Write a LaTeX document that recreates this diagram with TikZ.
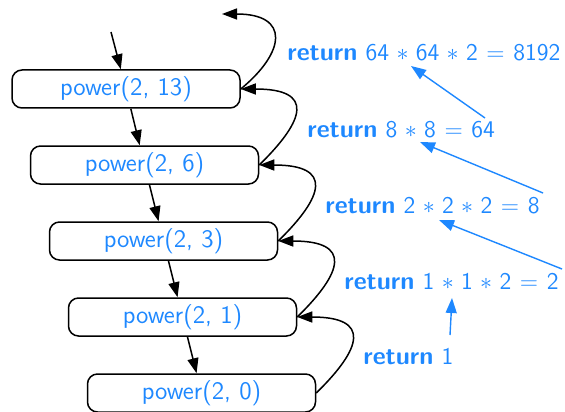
\documentclass[tikz,border=0pt]{standalone}
\usetikzlibrary{arrows.meta,calc}
\definecolor{fblue}{RGB}{30,136,255}
\newcommand\retmath[1]{$\medmuskip=5.5mu\relax\thickmuskip=6.5mu\relax #1$}
\begin{document}
\begin{tikzpicture}[x=0.5pt,y=-0.5pt,
 callbox/.style={draw, line width=0.75pt, rounded corners=5pt, minimum width=114pt, minimum height=19pt, inner sep=0pt, text=fblue, font=\sffamily\fontsize{12.6}{15}\selectfont},
 ret/.style={text=fblue, inner sep=0pt, anchor=west, font=\sffamily\fontsize{12.6}{15}\selectfont},
 calltip/.style={-{Triangle[length=7.5pt,width=5.5pt]}, line width=0.75pt},
 rettip/.style={-{Triangle[length=7.5pt,width=5.5pt]}, line width=0.7pt, draw=fblue, fill=fblue}
]
\useasboundingbox (0,0) rectangle (565,411);
\node[callbox] (n13) at (126,89) {power(2, 13)};
\node[callbox] (n6) at (144.5,165) {power(2, 6)};
\node[callbox] (n3) at (163.5,241) {power(2, 3)};
\node[callbox] (n1) at (182.5,317) {power(2, 1)};
\node[callbox] (n0) at (201.5,393) {power(2, 0)};
\coordinate (in) at (111,32);
\coordinate (top) at (222,14);
\draw[calltip] (in) -- (n13);
\draw[calltip] (n13) -- (n6);
\draw[calltip] (n6) -- (n3);
\draw[calltip] (n3) -- (n1);
\draw[calltip] (n1) -- (n0);
\draw[calltip] (n13.east) .. controls +(45,-37) and +(68,0) .. (top);
\draw[calltip] (n6.east) .. controls +(46,-45) and +(74,0) .. (n13.east);
\draw[calltip] (n3.east) .. controls +(46,-45) and +(74,0) .. (n6.east);
\draw[calltip] (n1.east) .. controls +(46,-45) and +(74,0) .. (n3.east);
\draw[calltip] (n0.east) .. controls +(46,-45) and +(74,0) .. (n1.east);
\node[ret] (l1) at (287,53) {\textbf{return} \retmath{\mathsf{64}\ast\mathsf{64}\ast\mathsf{2}=\mathsf{8192}}};
\node[ret] (l2) at (307,130) {\textbf{return} \retmath{\mathsf{8}\ast\mathsf{8}=\mathsf{64}}};
\node[ret] (l3) at (325,206) {\textbf{return} \retmath{\mathsf{2}\ast\mathsf{2}\ast\mathsf{2}=\mathsf{8}}};
\node[ret] (l4) at (344,282) {\textbf{return} \retmath{\mathsf{1}\ast\mathsf{1}\ast\mathsf{2}=\mathsf{2}}};
\node[ret] (l5) at (363,357) {\textbf{return} \retmath{\mathsf{1}}};
\coordinate (a1s) at (485,118); \coordinate (a1e) at (411,66);
\coordinate (a2s) at (543,193); \coordinate (a2e) at (420,142);
\coordinate (a3s) at (562,269); \coordinate (a3e) at (439,220);
\coordinate (a4s) at (450,335); \coordinate (a4e) at (452,298);
\draw[rettip] (a1s) -- (a1e);
\draw[rettip] (a2s) -- (a2e);
\draw[rettip] (a3s) -- (a3e);
\draw[rettip] (a4s) -- (a4e);
\end{tikzpicture}
\end{document}
